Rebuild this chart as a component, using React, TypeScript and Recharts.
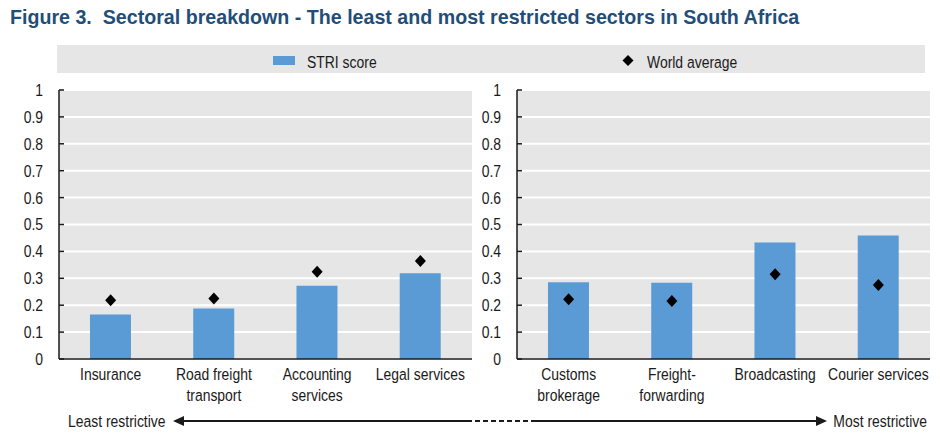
import { ComposedChart, Bar, Scatter, XAxis, YAxis, CartesianGrid } from 'recharts';

// no Arial Narrow here: Liberation Sans squeezed horizontally has the same metrics
const FONT = "'Liberation Sans', Arial, sans-serif";
const SQ = 0.82;
const BAR = '#5b9bd5';
const INK = '#1a1a1a';

// least restricted sectors (left panel)
const leftSectors = ['Insurance', 'Road freight\ntransport', 'Accounting\nservices', 'Legal services'];
const leftStri = [0.165, 0.188, 0.272, 0.319];
const leftWorld = [0.218, 0.225, 0.324, 0.364];

// most restricted sectors (right panel)
const rightSectors = ['Customs\nbrokerage', 'Freight-\nforwarding', 'Broadcasting', 'Courier services'];
const rightStri = [0.285, 0.283, 0.433, 0.459];
const rightWorld = [0.222, 0.216, 0.315, 0.275];

const yTicks = [0, 0.1, 0.2, 0.3, 0.4, 0.5, 0.6, 0.7, 0.8, 0.9, 1];

function NText({ x, y, anchor = 'start', dy, children }: any) {
  return (
    <text
      transform={`translate(${x},${y}) scale(${SQ},1)`}
      dy={dy}
      textAnchor={anchor}
      fontFamily={FONT}
      fontSize={17}
      fill={INK}
    >
      {children}
    </text>
  );
}

const YTick = (props: any) => {
  const { x, y, payload } = props;
  return (
    <g>
      <line x1={x + 16} x2={x + 21} y1={y} y2={y} stroke={INK} strokeWidth={1.5} />
      <NText x={x} y={y} anchor="end" dy="0.35em">{String(payload.value)}</NText>
    </g>
  );
};

const XTick = (props: any) => {
  const { x, y, payload } = props;
  const lines = String(payload.value).split('\n');
  return (
    <NText x={x} y={y} anchor="middle">
      {lines.map((l, i) => (
        <tspan key={i} x={0} dy={i === 0 ? '0.71em' : 21}>
          {l}
        </tspan>
      ))}
    </NText>
  );
};

const Diamond = (props: any) => {
  const { cx, cy } = props;
  if (cx == null || cy == null) return null;
  return <polygon points={`${cx},${cy - 6} ${cx + 5.5},${cy} ${cx},${cy + 6} ${cx - 5.5},${cy}`} fill="#000" />;
};

function Panel({ sectors, stri, world, width, yWidth, right }: {
  sectors: string[]; stri: number[]; world: number[]; width: number; yWidth: number; right: number;
}) {
  const data = sectors.map((s, i) => ({ sector: s, stri: stri[i], world: world[i] }));
  return (
    <ComposedChart
      width={width}
      height={355}
      data={data}
      barCategoryGap="30%"
      margin={{ top: 10, right, bottom: 16, left: 0 }}
    >
      <CartesianGrid vertical={false} stroke="#fff" strokeWidth={2} fill="#e6e6e6" />
      <XAxis
        dataKey="sector"
        interval={0}
        height={60}
        tickLine={false}
        tickSize={0}
        tickMargin={9}
        tick={<XTick />}
        axisLine={{ stroke: INK, strokeWidth: 1.5 }}
      />
      <YAxis
        domain={[0, 1]}
        ticks={yTicks}
        width={yWidth}
        tickLine={false}
        tickSize={0}
        tickMargin={16}
        tick={<YTick />}
        axisLine={{ stroke: INK, strokeWidth: 1.5 }}
      />
      <Bar dataKey="stri" fill={BAR} isAnimationActive={false} />
      <Scatter dataKey="world" shape={<Diamond />} isAnimationActive={false} />
    </ComposedChart>
  );
}

export default function App() {
  return (
    <div style={{ position: 'absolute', left: 0, top: 0, width: 940, height: 435, background: '#fff', overflow: 'hidden' }}>
      <div
        style={{
          position: 'absolute', left: 10, top: 4, fontFamily: FONT, fontWeight: 'bold',
          fontSize: 21, color: '#1f4e79', whiteSpace: 'nowrap', lineHeight: '26px',
          transform: 'scale(0.935,1)', transformOrigin: '0 0',
        }}
      >
        Figure 3.&nbsp; Sectoral breakdown - The least and most restricted sectors in South Africa
      </div>

      <svg width={940} height={80} style={{ position: 'absolute', left: 0, top: 0 }}>
        <rect x={57} y={45} width={868} height={28} fill="#e6e6e6" />
        <rect x={273} y={56} width={22} height={9} fill={BAR} />
        <NText x={307} y={68}>STRI score</NText>
        <polygon points="628,55 633.5,60.5 628,66 622.5,60.5" fill="#000" />
        <NText x={647} y={68}>World average</NText>
      </svg>

      <div style={{ position: 'absolute', left: 0, top: 80 }}>
        <Panel sectors={leftSectors} stri={leftStri} world={leftWorld} width={475} yWidth={59} right={3} />
      </div>
      <div style={{ position: 'absolute', left: 475, top: 80 }}>
        <Panel sectors={rightSectors} stri={rightStri} world={rightWorld} width={465} yWidth={42} right={10} />
      </div>

      <svg width={940} height={30} style={{ position: 'absolute', left: 0, top: 405 }}>
        <NText x={68} y={16} dy="0.35em">Least restrictive</NText>
        <polygon points="173,16 184,11 184,21" fill={INK} />
        <line x1={183} x2={467} y1={16} y2={16} stroke={INK} strokeWidth={2} />
        <line x1={467} x2={532} y1={16} y2={16} stroke={INK} strokeWidth={2} strokeDasharray="5 3" />
        <line x1={532} x2={818} y1={16} y2={16} stroke={INK} strokeWidth={2} />
        <polygon points="827,16 816,11 816,21" fill={INK} />
        <NText x={927} y={16} anchor="end" dy="0.35em">Most restrictive</NText>
      </svg>
    </div>
  );
}
